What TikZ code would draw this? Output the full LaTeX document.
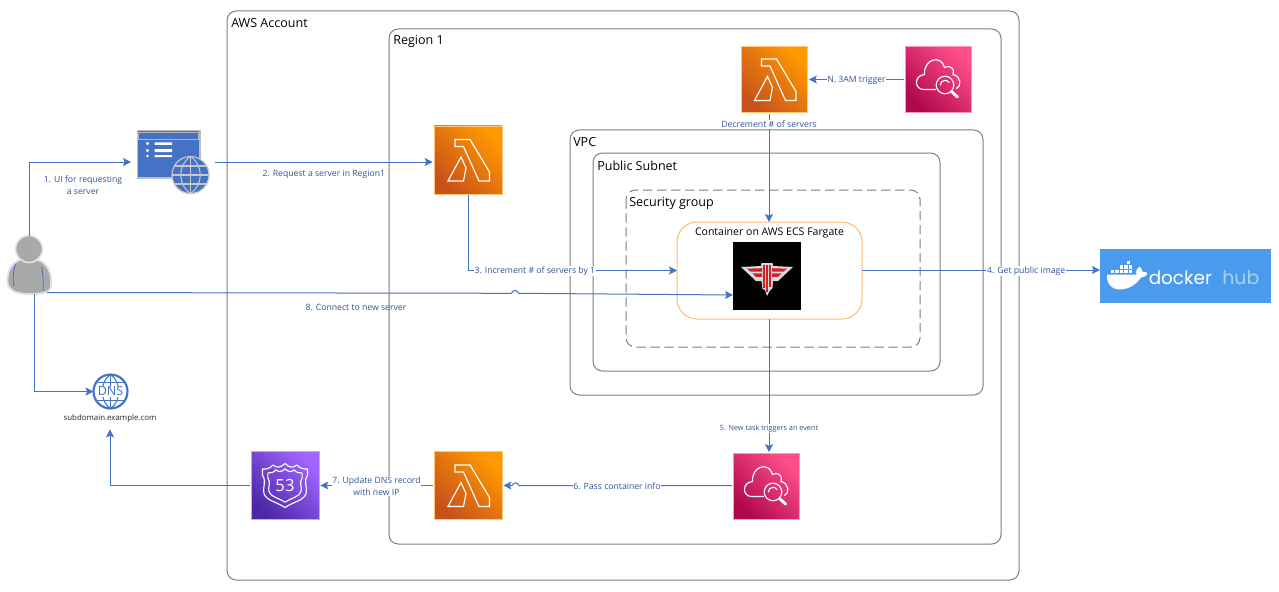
\documentclass[tikz,border=0pt]{standalone}
\usepackage{fontspec}
\setmainfont{Open Sans}
\newfontfamily\dockerfont{Poppins}
\usetikzlibrary{arrows.meta,shadings}
\definecolor{linkblue}{HTML}{4472C4}
\definecolor{labelblue}{HTML}{2F5597}
\definecolor{framegray}{HTML}{7F7F7F}
\definecolor{dockerblue}{HTML}{4A9BEE}
\definecolor{hubblue}{HTML}{A8D0F5}
\definecolor{personfill}{HTML}{A9A9A9}
\definecolor{wolfred}{HTML}{D02028}
\definecolor{lambdalow}{HTML}{C8511B}
\definecolor{lambdahigh}{HTML}{FF9900}
\definecolor{watchlow}{HTML}{B0084D}
\definecolor{watchhigh}{HTML}{FF4F8B}
\definecolor{routelow}{HTML}{4D27A8}
\definecolor{routehigh}{HTML}{A166FF}
\tikzset{
  frame/.style={draw=framegray,line width=.75pt,rounded corners=7pt,fill=none},
  framelabel/.style={font=\fontsize{9.4pt}{11pt}\selectfont,anchor=west,inner sep=0pt,text=black},
  link/.style={draw=linkblue,line width=.75pt,-{Stealth[length=6pt,width=6pt,inset=1.2pt]}},
  lab/.style={font=\fontsize{6.5pt}{8.6pt}\selectfont,text=labelblue,align=center,fill=white,inner sep=.6pt,yshift=-.6pt},
  tinylab/.style={lab,font=\fontsize{5.45pt}{7pt}\selectfont},
  plainlab/.style={lab,fill=none},
  tile/.style={minimum width=49.5pt,minimum height=49.5pt,inner sep=0pt,outer sep=1pt},
  lambdatile/.style={tile,bottom color=lambdalow,top color=lambdahigh,shading angle=-45,draw=lambdahigh!55!white,line width=.5pt},
  watchtile/.style={tile,bottom color=watchlow,top color=watchhigh,shading angle=-45,draw=watchhigh!60!white,line width=.5pt},
  routetile/.style={tile,bottom color=routelow,top color=routehigh,shading angle=-45,draw=routehigh!60!white,line width=.5pt},
  glyph/.style={draw=white,line width=.85pt,fill=none,line join=miter},
}
\newcommand{\lambdaglyph}[1]{%
  \begin{scope}[shift={(#1.center)}]
    \draw[glyph] (-13,-20.5) -- (2,-20.5) -- (21.5,12) -- (21.5,21) -- (11,21) -- (-4.5,-13.5) -- (-13,-13.5) -- cycle;
    \draw[glyph] (-20,21) -- (-7,-3) -- (-2,8) -- (-4.5,21) -- cycle;
  \end{scope}}
\newcommand{\watchglyph}[1]{%
  \begin{scope}[shift={(#1.center)}]
    \draw[glyph,line cap=round] (-3,10) -- (-15,10) .. controls (-24,10) and (-25,-4) .. (-14,-5)
      .. controls (-15,-21) and (3,-25) .. (6,-12) .. controls (11,-15) and (17,-11) .. (14.5,-5)
      .. controls (23,-3) and (23,7) .. (18,9);
    \draw[glyph] (6.5,5.5) circle (8.8);
    \draw[glyph,line cap=round] (1.8,5.5) arc (180:330:4.7);
    \draw[white,line width=2.2pt,line cap=round] (13,12) -- (19,17.5);
  \end{scope}}
\newcommand{\shieldpath}{(0,-22) .. controls (-4,-18) and (-8,-17) .. (-12,-20.5) .. controls (-15,-17) and (-19,-16) .. (-22.5,-16.5) -- (-22.5,-10)
   .. controls (-18,-4) and (-23,3) .. (-21,8) .. controls (-19,15) and (-9,16) .. (0,22) .. controls (9,16) and (19,15) .. (21,8)
   .. controls (23,3) and (18,-4) .. (22.5,-10) -- (22.5,-16.5) .. controls (19,-16) and (15,-17) .. (12,-20.5) .. controls (8,-17) and (4,-18) .. (0,-22) -- cycle}
\begin{document}
\begin{tikzpicture}[x=.75pt,y=-.75pt]
\useasboundingbox (0,0) rectangle (1279,592);
\fill[white] (0,0) rectangle (1279,592);
% containers
\draw[frame] (227,11) rectangle (1019,580);
\draw[frame] (389,29) rectangle (1001,544);
\draw[frame] (570,130) rectangle (983,395);
\draw[frame] (593,153) rectangle (940,371);
\draw[frame,dash pattern=on 7pt off 3.5pt] (626,190) rectangle (920,347);
\node[framelabel] (tacc) at (231,23) {AWS Account};
\node[framelabel] (treg) at (393,41.5) {Region 1};
\node[framelabel] (tvpc) at (573,142) {VPC};
\node[framelabel] (tsub) at (597,166) {Public Subnet};
\node[framelabel] (tsg) at (629,203) {Security group};
% container box
\node[draw=orange!55!white,line width=.75pt,rounded corners=15pt,minimum width=138.75pt,minimum height=72.75pt,inner sep=0pt,outer sep=0pt] (task) at (769.5,270.5) {};
\node[font=\fontsize{7.9pt}{10pt}\selectfont,inner sep=0pt] (ttask) at (769.5,233) {Container on AWS ECS Fargate};
% game logo
\node[fill=black,minimum width=51pt,minimum height=51pt,inner sep=0pt,outer sep=0pt] (logo) at (767,276) {};
\begin{scope}[shift={(logo.center)}]
  \fill[white!85!black] (-26,-9) -- (-6,-10) -- (-5.5,-13) -- (5.5,-13) -- (6,-10) -- (26,-9) -- (11,5) -- (6,5) -- (5.5,12) -- (2.5,15) -- (0,20) -- (-2,14) -- (-4.5,13) -- (-5.5,5) -- (-11,5) -- cycle;
  \fill[wolfred] (-20,-7.3) -- (-5,-7.8) -- (-5,-4.3) -- (-16.5,-4.3) -- cycle;
  \fill[wolfred] (20,-7.3) -- (5,-7.8) -- (5,-4.3) -- (16.5,-4.3) -- cycle;
  \fill[wolfred] (-14.5,-2.6) -- (-5,-2.6) -- (-5,.8) -- (-11,.8) -- cycle;
  \fill[wolfred] (14.5,-2.6) -- (5,-2.6) -- (5,.8) -- (11,.8) -- cycle;
  \fill[wolfred] (-4,-11.5) rectangle (-2.1,12);
  \fill[wolfred] (-1,-11.5) rectangle (1,16);
  \fill[wolfred] (2.1,-11.5) rectangle (4,11);
\end{scope}
% service tiles
\node[lambdatile] (lamtop) at (774.5,79.5) {};
\lambdaglyph{lamtop}
\node[watchtile] (cwtop) at (938.5,79.5) {};
\watchglyph{cwtop}
\node[lambdatile,minimum width=51pt,minimum height=51pt] (lamreq) at (468,160) {};
\lambdaglyph{lamreq}
\node[lambdatile,minimum width=51pt,minimum height=51pt] (lamdns) at (468,485.5) {};
\lambdaglyph{lamdns}
\node[watchtile] (cwbot) at (766.5,486.5) {};
\watchglyph{cwbot}
\node[routetile,minimum width=51pt,minimum height=51pt] (route) at (285,485.5) {};
\begin{scope}[shift={(route.center)}]
  \draw[glyph,line join=round] \shieldpath;
  \begin{scope}[scale=.76]
    \draw[glyph,line join=round] \shieldpath;
  \end{scope}
\end{scope}
\node[text=white,font=\fontsize{12.5pt}{13pt}\selectfont,inner sep=0pt] (r53) at (285,486) {53};
% web UI
\node[minimum width=63pt,minimum height=48pt,inner sep=0pt,outer sep=0pt] (ui) at (173,162) {};
\fill[linkblue,draw=black!25,line width=1pt] (137.5,130.5) rectangle (200,178);
\draw[black!28,line width=.9pt,fill=linkblue] (138.5,132.5) rectangle (199,139.5);
\begin{scope}[white]
  \fill (147.5,143.5) circle (1.6) (147.5,150.5) circle (1.6) (147.5,156) circle (1.4);
  \fill (154.5,142.5) rectangle (172,145) (154.5,149) rectangle (172,152) (154.5,155) rectangle (172,157);
\end{scope}
\coordinate (globe) at (190.5,175);
\fill[linkblue,draw=black!22,line width=.9pt] (globe) circle (18.5);
\begin{scope}[shift={(globe)}]
  \draw[black!22,line width=.8pt] (0,-18.5) -- (0,18.5) (-18.5,0) -- (18.5,0) (-16,-9) -- (16,-9) (-16,9) -- (16,9);
  \draw[black!22,line width=.8pt] (0,-18.5) .. controls (-13,-10) and (-13,10) .. (0,18.5) .. controls (13,10) and (13,-10) .. (0,-18.5);
\end{scope}
% person
\node[minimum width=34pt,minimum height=43pt,inner sep=0pt,outer sep=0pt] (user) at (29.5,265) {};
\fill[personfill,draw=black!12,line width=1.3pt] (7.5,282) .. controls (7,268) and (14,259) .. (29,258) .. controls (44,259) and (52,268) .. (51,285)
  .. controls (51,292) and (44,294) .. (30,294) .. controls (20,294) and (8,292) .. (7.5,282) -- cycle;
\fill[personfill,draw=black!10,line width=1.2pt] (29,249) circle (13.5);
\draw[linkblue,line width=.6pt] (15.5,264) .. controls (13,272) and (12.5,279) .. (14,286);
\draw[linkblue,line width=.6pt] (41.5,267) .. controls (43,273) and (43.5,282) .. (43,291);
\coordinate (userdown) at (34.5,294);
\coordinate (userright) at (47,292.5);
% DNS
\node[circle,minimum size=25.5pt,inner sep=0pt,outer sep=0pt,draw=linkblue,line width=1.6pt] (dns) at (110.5,391.5) {};
\begin{scope}[shift={(dns.center)}]
  \clip (0,0) circle (16.5);
  \draw[linkblue,line width=.8pt] (0,-17) .. controls (-11,-10) and (-11,10) .. (0,17) .. controls (11,10) and (11,-10) .. (0,-17);
  \draw[linkblue,line width=.8pt] (0,-17) -- (0,17) (-14,-9) -- (14,-9) (-14,9) -- (14,9);
\end{scope}
\node[fill=white,inner sep=.3pt,font=\fontsize{9.4pt}{10pt}\selectfont,text=linkblue] (dnstxt) at (110.5,391.5) {DNS};
\node[font=\fontsize{5.9pt}{7pt}\selectfont,inner xsep=2pt,inner ysep=5pt,text=black!85] (host) at (110,418.5) {subdomain.example.com};
% docker hub
\node[fill=dockerblue,minimum width=128.25pt,minimum height=40.5pt,inner sep=0pt,outer sep=0pt] (hub) at (1185.5,276) {};
\begin{scope}[white]
  \fill (1107,274.5) -- (1136.5,274.5) .. controls (1135.5,271) and (1137,268) .. (1139.5,266.5) .. controls (1141.5,268) and (1142.5,270) .. (1142.5,272) .. controls (1144,271.5) and (1146,272) .. (1147.5,273) .. controls (1146,276.5) and (1143.5,277.5) .. (1141,277.5)
    .. controls (1136,285) and (1128,289.5) .. (1120,289.5) .. controls (1111,289.5) and (1106.5,283) .. (1107,274.5) -- cycle;
  \foreach \sx in {1110.5,1115,1119.5,1124,1128.5} {\fill (\sx,269.5) rectangle +(3.7,3.7);}
  \foreach \sx in {1119.5,1124,1128.5} {\fill (\sx,265) rectangle +(3.7,3.7);}
  \fill (1126.5,260.5) rectangle +(3.7,3.7);
\end{scope}
\node[anchor=west,inner sep=0pt,text=white,font=\dockerfont\fontsize{13.8pt}{16pt}\selectfont] (dockerword) at (1148.5,277.5) {docker};
\node[anchor=west,inner sep=0pt,text=hubblue,font=\dockerfont\fontsize{14.2pt}{16pt}\selectfont] (hubword) at (1222,277.5) {hub};
% connectors
\draw[link] (user.north) |- (ui.west);
\draw[link] (ui.east) -- node[plainlab,below=4.6pt,pos=.5] {2. Request a server in Region1} (lamreq.west |- ui.east);
\draw[link] (lamreq.south) |- node[lab,pos=.66] {3. Increment \# of servers by 1} (task.west);
\coordinate (jumpa) at (511.5,293.3);
\coordinate (jumpb) at (518.5,293.3);
\draw[link] (userright) -- (jumpa) .. controls (512.5,289.5) and (517.5,289.5) .. (jumpb) -- (logo.west |- 0,295);
\draw[link] (task.east |- 0,270) -- node[lab,pos=.69] {4. Get public image} (hub.west |- 0,270);
\draw[link] (task.south -| 769,0) -- node[tinylab,pos=.815] {5. New task triggers an event} (cwbot.north -| 769,0);
\coordinate (jumpc) at (519,485.5);
\coordinate (jumpd) at (512,485.5);
\draw[link] (cwbot.west |- jumpc) -- node[lab,pos=.54] {6. Pass container info} (jumpc) .. controls (517.5,482) and (513.5,482) .. (jumpd) -- (lamdns.east);
\draw[link] (lamdns.west) -- node[lab,pos=.5] {7. Update DNS record\\with new IP} (route.east);
\draw[link] (route.west) -| (host.south);
\draw[link] (userdown) |- (dns.west);
\draw[link] (cwtop.west) -- node[lab,pos=.5] {N. 3AM trigger} (lamtop.east);
\draw[link] (lamtop.south -| 769,0) -- node[lab,font=\fontsize{6.55pt}{7pt}\selectfont,pos=.09] {Decrement \# of servers} (task.north -| 769,0);
% free labels
\node[plainlab] (l1) at (83,184.5) {1. UI for requesting\\a server};
\node[plainlab] (l8) at (356,307) {8. Connect to new server};
\end{tikzpicture}
\end{document}
